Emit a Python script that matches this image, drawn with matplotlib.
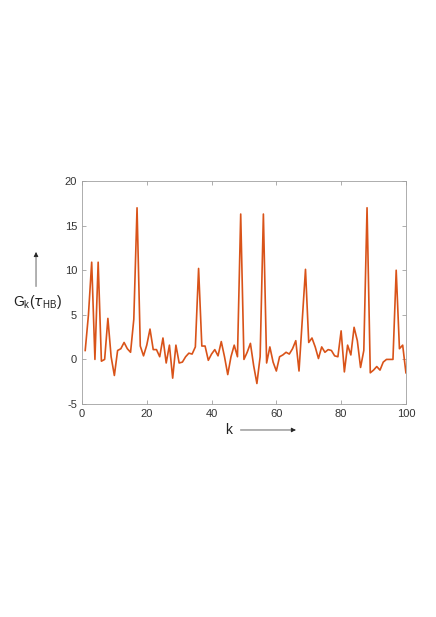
import numpy as np
import matplotlib
matplotlib.use('Agg')
import matplotlib.pyplot as plt

plt.rcParams['font.family'] = ['Liberation Sans', 'DejaVu Sans']
plt.rcParams['axes.unicode_minus'] = False

# Werte (k = 1..100)
k_values = np.arange(1, 101)
g_values = [
    1.0, 5.0, 10.9, 0.0, 10.9, -0.2, 0.0, 4.6, 0.3, -1.8,
    1.0, 1.2, 1.9, 1.2, 0.8, 4.5, 17.0, 1.5, 0.4, 1.6,
    3.4, 1.1, 1.1, 0.3, 2.4, -0.4, 1.6, -2.1, 1.6, -0.4,
    -0.3, 0.3, 0.7, 0.6, 1.4, 10.2, 1.5, 1.5, -0.1, 0.6,
    1.1, 0.4, 2.0, 0.3, -1.7, 0.3, 1.6, 0.3, 16.3, 0.0,
    0.8, 1.8, -0.7, -2.7, 0.3, 16.3, -0.4, 1.4, -0.3, -1.3,
    0.3, 0.5, 0.8, 0.6, 1.2, 2.1, -1.3, 4.4, 10.1, 1.9,
    2.4, 1.4, 0.1, 1.4, 0.8, 1.1, 1.0, 0.4, 0.3, 3.2,
    -1.4, 1.6, 0.5, 3.6, 2.1, -0.9, 1.0, 17.0, -1.5, -1.2,
    -0.8, -1.2, -0.3, 0.0, 0.0, 0.0, 10.0, 1.2, 1.6, -1.5,
]
x_ticks = [0, 20, 40, 60, 80, 100]
y_ticks = [-5, 0, 5, 10, 15, 20]

fig = plt.figure(figsize=(4.36, 6.17), dpi=100)
ax = fig.add_axes([0.188, 0.3452, 0.743, 0.3614])

ax.plot(k_values, g_values, color='#D95319', lw=1.2)

ax.set_xlim(0, 100)
ax.set_ylim(-5, 20)
ax.set_xticks(x_ticks)
ax.set_yticks(y_ticks)

for side in ax.spines.values():
    side.set_color('#a0a0a0')
    side.set_linewidth(0.6)
ax.tick_params(direction='in', length=3, width=0.6, color='#a0a0a0',
               labelsize=8, labelcolor='#333333', top=True, right=True)

# Achsenbeschriftungen mit Pfeilen
fig.text(0.525, 0.3031, 'k', fontsize=10, ha='center', va='center', color='#222222')
fig.add_artist(matplotlib.patches.FancyArrowPatch(
    (0.545, 0.3031), (0.685, 0.3031), transform=fig.transFigure,
    arrowstyle='-|>', mutation_scale=7, lw=0.5, color='#222222'))

fig.text(0.085, 0.5105, r'G$_\mathregular{k}$($\tau_\mathregular{HB}$)', fontsize=10,
         ha='center', va='center', color='#222222')
fig.add_artist(matplotlib.patches.FancyArrowPatch(
    (0.0826, 0.531), (0.0826, 0.596), transform=fig.transFigure,
    arrowstyle='-|>', mutation_scale=7, lw=0.5, color='#222222'))

plt.savefig('out.png', dpi=100)
